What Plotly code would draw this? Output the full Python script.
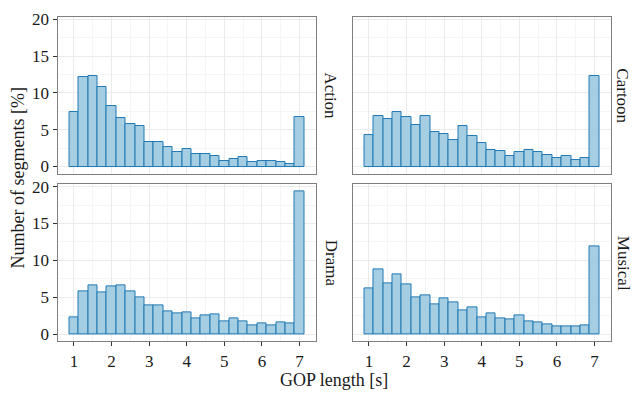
import plotly.graph_objects as go

W, H = 633, 394

gop_centers = [1 + 0.25 * i for i in range(25)]
genres = ["Action", "Cartoon", "Drama", "Musical"]

action = [7.36, 12.16, 12.33, 10.84, 8.28, 6.61, 5.73, 5.55, 3.35, 3.26, 2.64, 2.03, 2.38,
          1.76, 1.67, 1.37, 0.79, 1.06, 1.23, 0.66, 0.75, 0.79, 0.66, 0.31, 6.74]
cartoon = [4.32, 6.87, 6.48, 7.40, 6.74, 5.64, 6.87, 4.63, 4.36, 3.61, 5.55, 4.10, 3.17,
           2.20, 2.11, 1.41, 1.98, 2.20, 1.94, 1.59, 1.19, 1.45, 0.93, 1.19, 12.33]
drama = [2.24, 5.79, 6.67, 5.61, 6.45, 6.58, 5.79, 5.00, 3.95, 3.95, 3.11, 2.81, 2.89,
         2.10, 2.59, 2.63, 1.71, 2.19, 1.71, 1.23, 1.45, 1.23, 1.58, 1.45, 19.34]
musical = [6.18, 8.73, 6.89, 8.16, 6.80, 4.96, 5.26, 4.08, 4.87, 4.30, 3.25, 3.68, 2.28,
           2.85, 2.19, 2.02, 2.50, 1.67, 1.58, 1.36, 1.10, 1.10, 1.10, 1.18, 11.93]
series = [action, cartoon, drama, musical]

x_ticks = [1, 2, 3, 4, 5, 6, 7]
y_ticks = [0, 5, 10, 15, 20]

FONT = "Liberation Serif"
TXT = "#1a1a1a"

# panel pixel boxes: (left, right, top, bottom)
boxes = [(57.5, 316, 10.3, 171), (352.5, 611, 10.3, 171),
         (57.5, 316, 182, 343), (352.5, 611, 182, 343)]

fig = go.Figure()
layout = {}
annotations = []
for i, (g, vals, box) in enumerate(zip(genres, series, boxes)):
    n = i + 1
    xa = "xaxis" if n == 1 else f"xaxis{n}"
    ya = "yaxis" if n == 1 else f"yaxis{n}"
    xr = "x" if n == 1 else f"x{n}"
    yr = "y" if n == 1 else f"y{n}"
    l, r, t, b = box
    fig.add_trace(go.Bar(x=gop_centers, y=vals, width=0.25, xaxis=xr, yaxis=yr,
                         marker=dict(color="#a6cee3", line=dict(color="#1f78b4", width=1)),
                         showlegend=False, hoverinfo="skip"))
    bottom_row = i >= 2
    left_col = i % 2 == 0
    layout[xa] = dict(domain=[l / W, r / W], anchor=yr, range=[0.5625, 7.4375],
                      tickvals=x_ticks, showticklabels=bottom_row,
                      ticks="outside" if bottom_row else "", ticklen=4, tickcolor="#333333",
                      showgrid=True, gridcolor="#ebebeb", gridwidth=1,
                      minor=dict(tickvals=[1.5, 2.5, 3.5, 4.5, 5.5, 6.5], showgrid=True,
                                 gridcolor="#f5f5f5", gridwidth=1),
                      showline=True, mirror=True, linecolor="#7f7f7f", linewidth=1,
                      zeroline=False, fixedrange=True,
                      tickfont=dict(family=FONT, size=17, color=TXT))
    layout[ya] = dict(domain=[1 - b / H, 1 - t / H], anchor=xr, range=[-0.967, 20.3],
                      tickvals=y_ticks, showticklabels=left_col,
                      ticks="outside" if left_col else "", ticklen=4, tickcolor="#333333",
                      showgrid=True, gridcolor="#ebebeb", gridwidth=1,
                      minor=dict(tickvals=[2.5, 7.5, 12.5, 17.5], showgrid=True,
                                 gridcolor="#f5f5f5", gridwidth=1),
                      showline=True, mirror=True, linecolor="#7f7f7f", linewidth=1,
                      zeroline=False, fixedrange=True,
                      tickfont=dict(family=FONT, size=17, color=TXT))
    off = 15 if left_col else 12
    annotations.append(dict(text=g, textangle=90, x=(r + off) / W, y=1 - (t + b) / 2 / H,
                            xref="paper", yref="paper", showarrow=False,
                            xanchor="center", yanchor="middle",
                            font=dict(family=FONT, size=17, color=TXT)))

annotations.append(dict(text="Number of segments [%]", textangle=-90, x=18 / W, y=1 - 176 / H,
                        xref="paper", yref="paper", showarrow=False,
                        xanchor="center", yanchor="middle",
                        font=dict(family=FONT, size=18, color=TXT)))
annotations.append(dict(text="GOP length [s]", x=334 / W, y=1 - 383 / H,
                        xref="paper", yref="paper", showarrow=False,
                        xanchor="center", yanchor="middle",
                        font=dict(family=FONT, size=18, color=TXT)))

fig.update_layout(width=W, height=H, margin=dict(l=0, r=0, t=0, b=0),
                  paper_bgcolor="white", plot_bgcolor="white", bargap=0,
                  annotations=annotations, **layout)

fig.write_html("out.html", config={"displayModeBar": False},
               post_script="document.body.style.margin='0';document.body.style.overflow='hidden';")
